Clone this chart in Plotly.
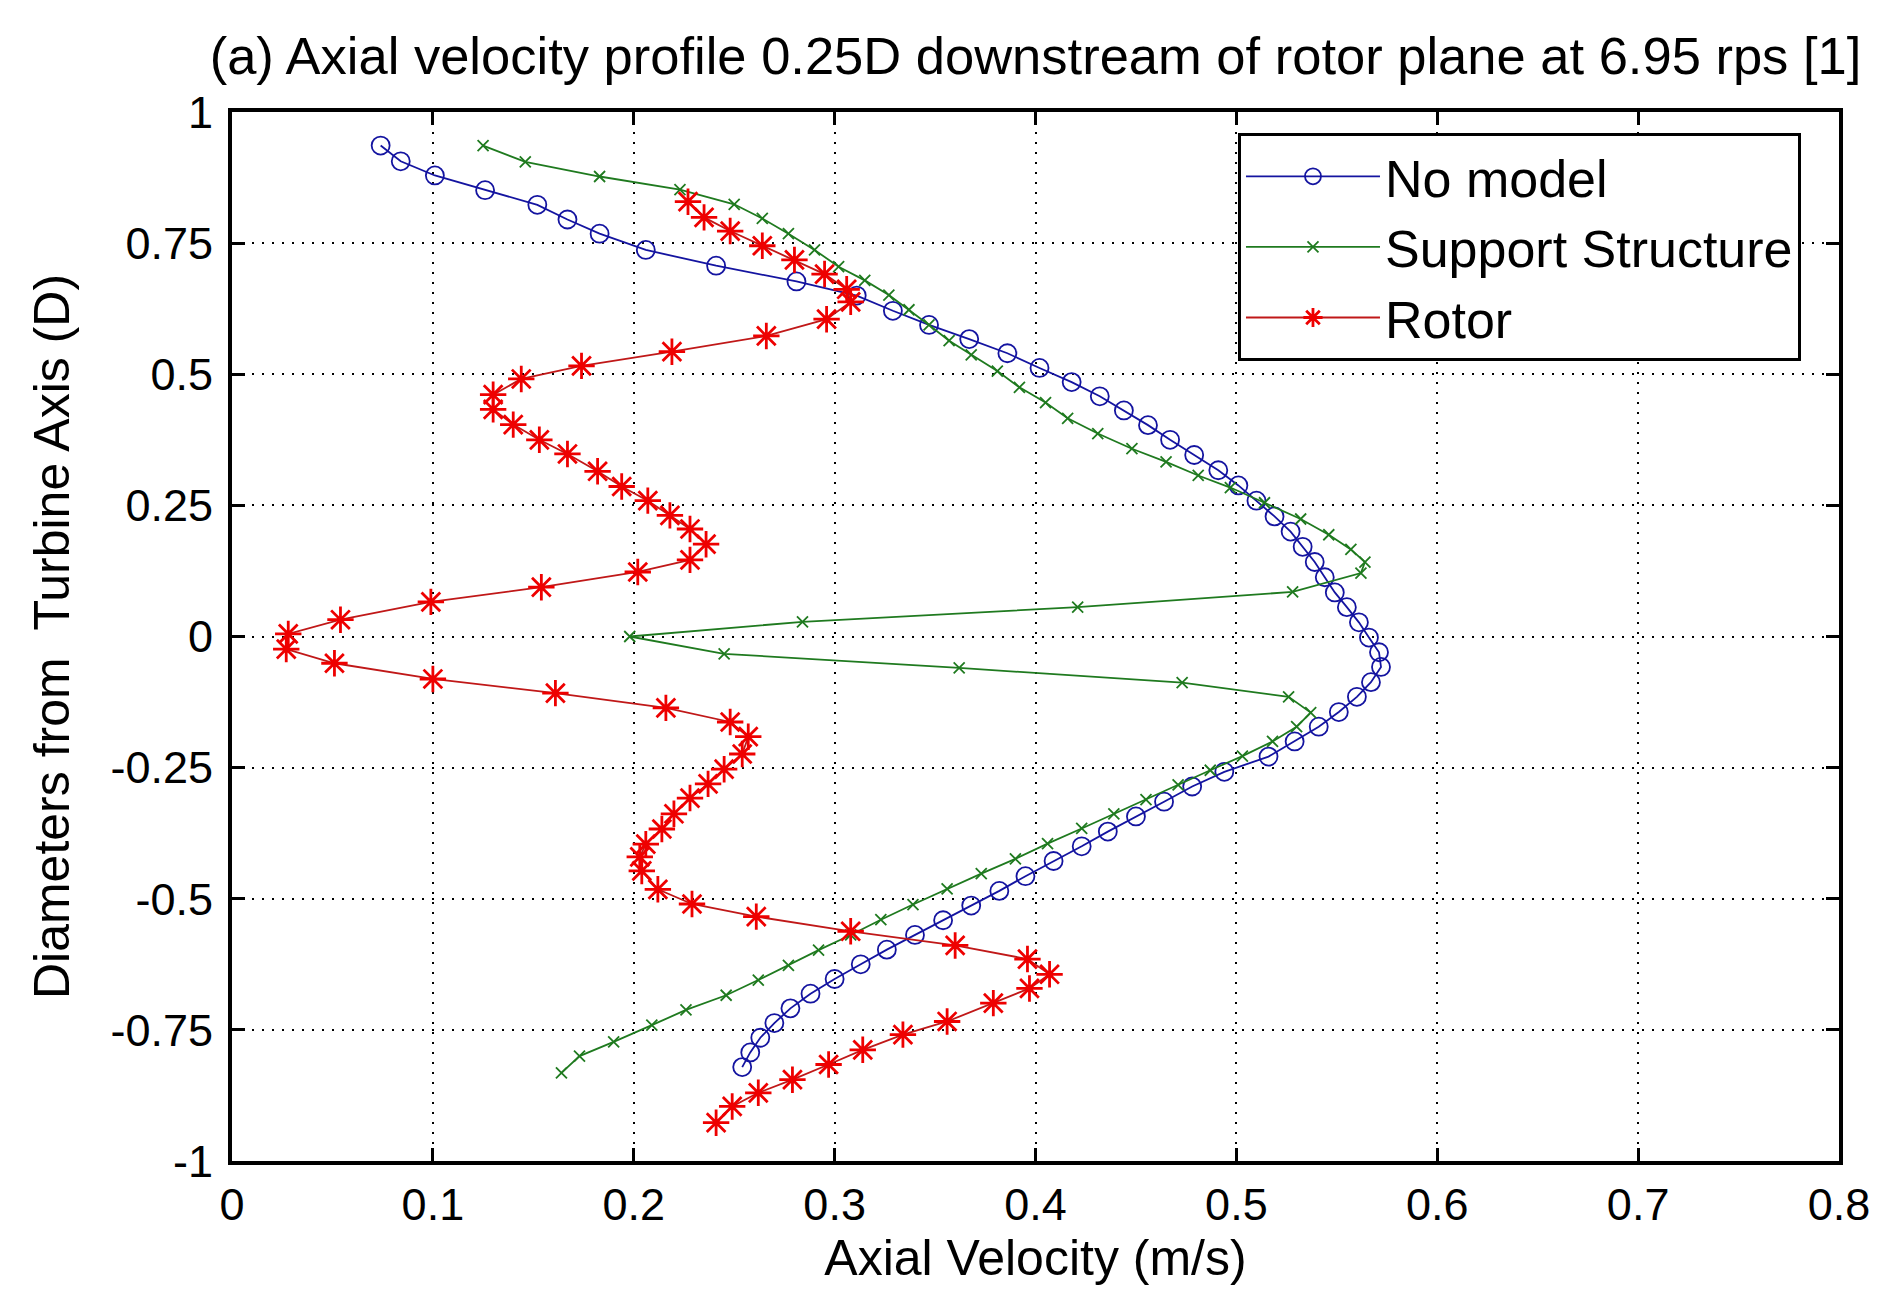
import plotly.graph_objects as go

# ---- data ----
nomodel_y = [0.936, 0.906, 0.879, 0.851, 0.823, 0.795, 0.768, 0.737, 0.707, 0.677,
             0.650, 0.621, 0.594, 0.567, 0.540, 0.512, 0.485, 0.458, 0.431, 0.403,
             0.375, 0.346, 0.317, 0.288, 0.259, 0.229, 0.200, 0.171, 0.142, 0.113,
             0.084, 0.056, 0.027, -0.002, -0.030, -0.058, -0.087, -0.115, -0.144, -0.172,
             -0.200, -0.229, -0.258, -0.286, -0.315, -0.343, -0.372, -0.400, -0.428, -0.457,
             -0.485, -0.513, -0.541, -0.569, -0.597, -0.625, -0.653, -0.681, -0.709, -0.737,
             -0.765, -0.793, -0.821]
nomodel_x = [0.074, 0.084, 0.101, 0.126, 0.152, 0.167, 0.183, 0.206, 0.241, 0.281,
             0.311, 0.329, 0.347, 0.367, 0.386, 0.402, 0.418, 0.432, 0.444, 0.456,
             0.467, 0.479, 0.491, 0.501, 0.510, 0.519, 0.527, 0.533, 0.539, 0.544,
             0.549, 0.555, 0.561, 0.566, 0.571, 0.572, 0.567, 0.560, 0.551, 0.541,
             0.529, 0.516, 0.494, 0.478, 0.464, 0.450, 0.436, 0.423, 0.409, 0.395,
             0.382, 0.368, 0.354, 0.340, 0.326, 0.313, 0.300, 0.288, 0.278, 0.270,
             0.263, 0.258, 0.254]

support_y = [0.936, 0.905, 0.877, 0.852, 0.824, 0.797, 0.768, 0.737, 0.705, 0.679,
             0.651, 0.623, 0.594, 0.564, 0.537, 0.506, 0.475, 0.446, 0.416, 0.387,
             0.358, 0.333, 0.307, 0.284, 0.255, 0.224, 0.194, 0.166, 0.142, 0.121,
             0.085, 0.056, 0.028, 0.000, -0.033, -0.060, -0.088, -0.115, -0.145, -0.172,
             -0.200, -0.228, -0.255, -0.283, -0.311, -0.338, -0.366, -0.395, -0.424, -0.452,
             -0.481, -0.511, -0.540, -0.569, -0.598, -0.627, -0.655, -0.684, -0.712, -0.741,
             -0.773, -0.800, -0.832]
support_x = [0.125, 0.146, 0.183, 0.223, 0.250, 0.264, 0.277, 0.290, 0.302, 0.315,
             0.327, 0.337, 0.347, 0.357, 0.368, 0.381, 0.392, 0.405, 0.416, 0.431,
             0.448, 0.465, 0.481, 0.497, 0.514, 0.532, 0.546, 0.557, 0.564, 0.562,
             0.528, 0.421, 0.284, 0.198, 0.245, 0.362, 0.473, 0.526, 0.537, 0.530,
             0.518, 0.503, 0.487, 0.471, 0.455, 0.439, 0.423, 0.406, 0.390, 0.373,
             0.356, 0.339, 0.323, 0.308, 0.292, 0.277, 0.262, 0.246, 0.226, 0.209,
             0.190, 0.173, 0.164]

rotor_y = [0.829, 0.799, 0.773, 0.745, 0.718, 0.691, 0.662, 0.638, 0.605, 0.573,
           0.543, 0.516, 0.491, 0.461, 0.433, 0.404, 0.375, 0.348, 0.315, 0.286,
           0.259, 0.231, 0.205, 0.176, 0.146, 0.123, 0.094, 0.066, 0.032, 0.005,
           -0.024, -0.051, -0.081, -0.108, -0.136, -0.163, -0.191, -0.224, -0.253, -0.281,
           -0.308, -0.338, -0.367, -0.396, -0.420, -0.447, -0.482, -0.510, -0.534, -0.562,
           -0.589, -0.615, -0.644, -0.671, -0.699, -0.734, -0.759, -0.788, -0.816, -0.845,
           -0.870, -0.896, -0.927]
rotor_x = [0.227, 0.235, 0.248, 0.264, 0.280, 0.295, 0.306, 0.308, 0.296, 0.266,
           0.219, 0.174, 0.144, 0.130, 0.130, 0.140, 0.153, 0.167, 0.182, 0.194,
           0.207, 0.218, 0.228, 0.236, 0.228, 0.202, 0.154, 0.099, 0.054, 0.028,
           0.027, 0.051, 0.100, 0.161, 0.216, 0.248, 0.257, 0.254, 0.245, 0.237,
           0.228, 0.220, 0.214, 0.206, 0.203, 0.204, 0.212, 0.229, 0.261, 0.308,
           0.360, 0.396, 0.407, 0.397, 0.379, 0.356, 0.334, 0.314, 0.297, 0.279,
           0.262, 0.249, 0.241]

x_ticks = [0, 0.1, 0.2, 0.3, 0.4, 0.5, 0.6, 0.7, 0.8]
x_ticklabels = ["0", "0.1", "0.2", "0.3", "0.4", "0.5", "0.6", "0.7", "0.8"]
y_ticks = [-1, -0.75, -0.5, -0.25, 0, 0.25, 0.5, 0.75, 1]
y_ticklabels = ["-1", "-0.75", "-0.5", "-0.25", "0", "0.25", "0.5", "0.75", "1"]

FONT = "Liberation Sans, Arial, Helvetica, sans-serif"

fig = go.Figure()
fig.add_trace(go.Scatter(
    x=nomodel_x, y=nomodel_y, name="No model", mode="lines+markers",
    line=dict(color="#1414a0", width=1.8),
    marker=dict(symbol="circle-open", size=18, color="#1414a0", line=dict(width=1.8)),
))
fig.add_trace(go.Scatter(
    x=support_x, y=support_y, name="Support Structure", mode="lines+markers",
    line=dict(color="#1f7a1f", width=1.8),
    marker=dict(symbol="x-thin-open", size=11, color="#1f7a1f", line=dict(width=1.8)),
))
fig.add_trace(go.Scatter(
    x=rotor_x, y=rotor_y, name="Rotor", mode="lines+markers",
    line=dict(color="#c01818", width=1.8),
    marker=dict(symbol="asterisk-open", size=22, color="#ee0000", line=dict(width=2.8)),
))

axis_common = dict(
    showline=True, linecolor="black", linewidth=4, mirror="allticks",
    ticks="inside", ticklen=13, tickwidth=3, tickcolor="black",
    showgrid=True, gridcolor="black", gridwidth=2, griddash="2px,8px",
    zeroline=False, tickfont=dict(family=FONT, size=45, color="black"),
    title_font=dict(family=FONT, size=50, color="black"),
)

fig.update_xaxes(range=[0, 0.8], tickvals=x_ticks, ticktext=x_ticklabels,
                 title_text="Axial Velocity (m/s)", title_standoff=6,
                 ticklabelstandoff=1, **axis_common)
fig.update_yaxes(range=[-1, 1], tickvals=y_ticks, ticktext=y_ticklabels,
                 title_text="Diameters from  Turbine Axis (D)", title_standoff=26,
                 ticklabelstandoff=6, **axis_common)

fig.update_layout(
    width=1883, height=1290,
    margin=dict(l=232, r=44, t=112, b=129, autoexpand=False),
    paper_bgcolor="white", plot_bgcolor="white",
    font=dict(family=FONT, color="black"),
    title=dict(text="(a) Axial velocity profile 0.25D downstream of rotor plane at 6.95 rps [1]",
               x=0.5, xref="paper", xanchor="center",
               y=1 - 56 / 1290, yref="container", yanchor="middle",
               font=dict(family=FONT, size=52.5, color="black")),
    legend=dict(x=0.626, y=0.98, xanchor="left", yanchor="top",
                bgcolor="white", bordercolor="black", borderwidth=3,
                font=dict(family=FONT, size=52, color="black"),
                itemwidth=134, tracegroupgap=0),
    showlegend=True,
)

fig.write_html("out.html",
               config={"displayModeBar": False},
               post_script="document.body.style.margin='0';document.body.style.overflow='hidden';")
